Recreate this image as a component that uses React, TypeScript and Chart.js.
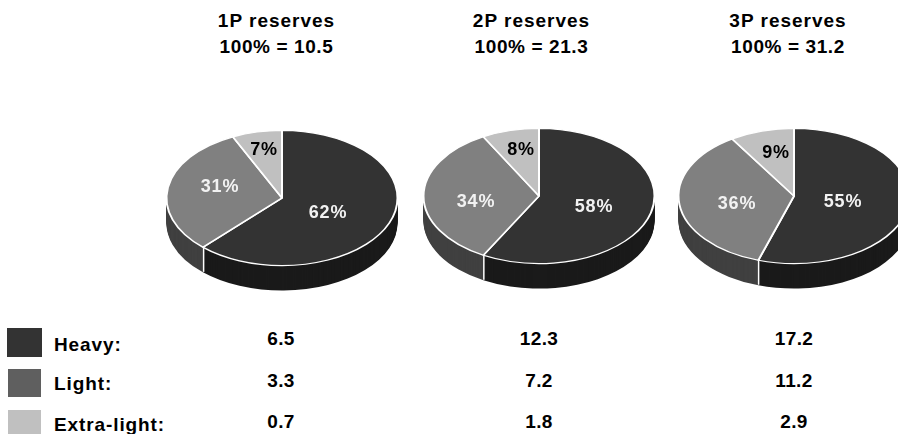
import React, { useEffect, useRef } from "react";
import { Chart, registerables } from "chart.js";

Chart.register(...registerables);

const categories = ["Heavy", "Light", "Extra-light"];
const reserveTitles = ["1P reserves", "2P reserves", "3P reserves"];
const reserveTotals = ["10.5", "21.3", "31.2"];
const shares1P = [62, 31, 7];
const shares2P = [58, 34, 8];
const shares3P = [55, 36, 9];
const heavyVolumes = ["6.5", "12.3", "17.2"];
const lightVolumes = ["3.3", "7.2", "11.2"];
const extraLightVolumes = ["0.7", "1.8", "2.9"];

const faceColors = ["#333333", "#808080", "#c0c0c0"];
const wallColors = ["#1a1a1a", "#404040", "#606060"];
const swatchColors = ["#333333", "#5f5f5f", "#c0c0c0"];
const labelColors = ["#f2f2f2", "#f2f2f2", "#000000"];

const FONT = '"Liberation Sans", Arial, sans-serif';
const CANVAS_SIZE = 240;
const RADIUS = 114.5;
const FACE_RY = 67;
const SQUASH = FACE_RY / RADIUS;
const DEPTH = 25;

// Where each pie sits on the page and where its percent labels go, relative to the pie's centre.
const pies = [
  { shares: shares1P, cx: 282, cy: 198, nudges: [[46, 15], [-62, -11], [-18, -48]] },
  { shares: shares2P, cx: 539, cy: 196, nudges: [[55, 11], [-63, 6], [-18, -46]] },
  { shares: shares3P, cx: 794, cy: 196, nudges: [[49, 6], [-57, 8], [-18, -43]] },
];
const columnCentres = [281, 539, 794];
const titleCentres = [276.5, 531.5, 788];
const rows = [
  { values: heavyVolumes, valueY: 339, textY: 345, box: [7, 328, 35, 29] },
  { values: lightVolumes, valueY: 381, textY: 384, box: [8, 369, 33, 28] },
  { values: extraLightVolumes, valueY: 422, textY: 425, box: [8, 410, 33, 24] },
];

function makeTiltPlugin(nudges: number[][]) {
  return {
    id: "tilt",
    beforeDatasetsDraw(chart: any) {
      const ctx = chart.ctx;
      const arcs = chart.getDatasetMeta(0).data;
      const c = CANVAS_SIZE / 2;
      const squash = () => {
        ctx.translate(c, c);
        ctx.scale(1, SQUASH);
        ctx.translate(-c, -c);
      };
      // Side wall: the same arcs repeated downward in the darker shades.
      for (let d = DEPTH; d >= 1; d--) {
        ctx.save();
        ctx.translate(0, d);
        squash();
        arcs.forEach((arc: any, i: number) => {
          const wall = Object.create(arc);
          wall.options = { ...arc.options, backgroundColor: wallColors[i], borderWidth: 0 };
          wall.draw(ctx);
        });
        ctx.restore();
      }
      // White seams where a slice boundary meets the front of the wall.
      arcs.forEach((arc: any) => {
        const sin = Math.sin(arc.endAngle);
        if (sin > 0.01) {
          const x = arc.x + RADIUS * Math.cos(arc.endAngle);
          const y = arc.y + RADIUS * sin * SQUASH;
          ctx.save();
          ctx.strokeStyle = "#ffffff";
          ctx.lineWidth = 1.5;
          ctx.beginPath();
          ctx.moveTo(x, y);
          ctx.lineTo(x, y + DEPTH);
          ctx.stroke();
          ctx.restore();
        }
      });
      ctx.save();
      squash();
    },
    afterDatasetsDraw(chart: any) {
      const ctx = chart.ctx;
      ctx.restore();
      const values = chart.data.datasets[0].data;
      const c = CANVAS_SIZE / 2;
      ctx.save();
      ctx.font = `bold 18px ${FONT}`;
      ctx.letterSpacing = "0.8px";
      ctx.textAlign = "center";
      ctx.textBaseline = "middle";
      values.forEach((v: number, i: number) => {
        ctx.fillStyle = labelColors[i];
        ctx.fillText(`${v}%`, c + nudges[i][0], c + nudges[i][1]);
      });
      ctx.restore();
    },
  };
}

function Pie({ shares, cx, cy, nudges }: any) {
  const ref = useRef<HTMLCanvasElement>(null);
  useEffect(() => {
    const chart = new Chart(ref.current as HTMLCanvasElement, {
      type: "pie",
      data: {
        labels: categories,
        datasets: [
          {
            data: shares,
            backgroundColor: faceColors,
            borderColor: "#ffffff",
            borderWidth: 2,
            radius: RADIUS + 1,
          } as any,
        ],
      },
      options: {
        animation: false,
        responsive: false,
        events: [],
        layout: { padding: 0 },
        plugins: { legend: { display: false }, tooltip: { enabled: false } },
      },
      plugins: [makeTiltPlugin(nudges)],
    });
    return () => chart.destroy();
  }, []);
  return (
    <canvas
      ref={ref}
      width={CANVAS_SIZE}
      height={CANVAS_SIZE}
      style={{
        position: "absolute",
        left: cx - CANVAS_SIZE / 2,
        top: cy - CANVAS_SIZE / 2,
        width: CANVAS_SIZE,
        height: CANVAS_SIZE,
      }}
    />
  );
}

const textStyle = (
  x: number,
  y: number,
  align: "center" | "left",
  spacing: number
): React.CSSProperties => ({
  position: "absolute",
  left: align === "center" ? x - 100 : x,
  width: 200,
  top: y - 12,
  height: 24,
  textAlign: align,
  font: `bold 19px/24px ${FONT}`,
  letterSpacing: `${spacing}px`,
  color: "#000",
  whiteSpace: "nowrap",
});

export default function App() {
  return (
    <div
      style={{
        position: "fixed",
        left: 0,
        top: 0,
        width: 898,
        height: 434,
        overflow: "hidden",
        background: "#fff",
      }}
    >
      {pies.map((p, i) => (
        <Pie key={i} {...p} />
      ))}
      {reserveTitles.map((t, i) => (
        <React.Fragment key={t}>
          <div style={textStyle(titleCentres[i], 21, "center", 1)}>{t}</div>
          <div style={textStyle(titleCentres[i], 47, "center", 0.6)}>{`100% = ${reserveTotals[i]}`}</div>
        </React.Fragment>
      ))}
      {rows.map((r, i) => (
        <React.Fragment key={categories[i]}>
          <div
            style={{
              position: "absolute",
              left: r.box[0],
              top: r.box[1],
              width: r.box[2],
              height: r.box[3],
              background: swatchColors[i],
            }}
          />
          <div style={textStyle(54, r.textY, "left", 0.9)}>{`${categories[i]}:`}</div>
          {r.values.map((v, j) => (
            <div key={j} style={textStyle(columnCentres[j], r.valueY, "center", 0.4)}>
              {v}
            </div>
          ))}
        </React.Fragment>
      ))}
    </div>
  );
}
